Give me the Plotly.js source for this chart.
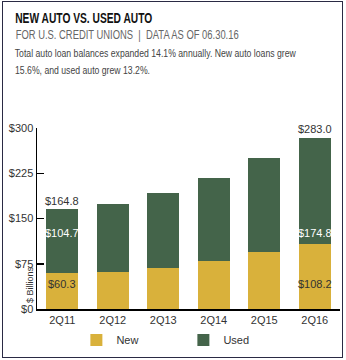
<!DOCTYPE html>
<html>
<head>
<meta charset="utf-8">
<script src="https://cdn.plot.ly/plotly-3.0.1.min.js"></script>
<style>
html,body{margin:0;padding:0;background:#fff;}
#wrap{position:relative;width:346px;height:360px;}
#chart{width:346px;height:360px;}
#frame{position:absolute;left:2px;top:1px;width:339px;height:355px;border:1.5px solid #2a2a44;pointer-events:none;}
</style>
</head>
<body>
<div id="wrap"><div id="chart"></div><div id="frame"></div></div>
<script>
var categories = ["2Q11","2Q12","2Q13","2Q14","2Q15","2Q16"];
var newAuto = [60.3, 61.5, 68.5, 80.0, 95.0, 108.2];
var usedAuto = [104.7, 113.0, 124.0, 137.5, 155.5, 174.8];
var totals = [164.8, 174.5, 192.5, 217.5, 250.5, 283.0];
var yTicks = [0, 75, 150, 225, 300];
var yTickText = ["$0","$75","$150","$225","$300"];
var labelled = [0, 5];
var titleText = "NEW AUTO VS. USED AUTO";
var subtitleText = "FOR U.S. CREDIT UNIONS  |  DATA AS OF 06.30.16";
var bodyLines = ["Total auto loan balances expanded 14.1% annually. New auto loans grew",
                 "15.6%, and used auto grew 13.2%."];

var FONT = "'Liberation Sans', Arial, sans-serif";
var YELLOW = "#d9b13b";
var GREEN = "#44644a";

var traces = [
  {type:"bar", name:"New", x:categories, y:newAuto, marker:{color:YELLOW}, hoverinfo:"skip"},
  {type:"bar", name:"Used", x:categories, y:usedAuto, marker:{color:GREEN}, hoverinfo:"skip"}
];

var ann = [];
labelled.forEach(function(i){
  ann.push({x:categories[i], y:totals[i], text:"$"+totals[i].toFixed(1), showarrow:false, yanchor:"bottom", yshift:1,
    font:{family:FONT, size:11, color:"#333"}});
  ann.push({x:categories[i], y:126, text:"$"+usedAuto[i].toFixed(1), showarrow:false, yanchor:"middle",
    font:{family:FONT, size:11, color:"#ffffff"}});
  ann.push({x:categories[i], y:42, text:"$"+newAuto[i].toFixed(1), showarrow:false, yanchor:"middle",
    font:{family:FONT, size:11, color:"#333"}});
});
function py(pix){ return (309 - pix)/181; }
function px(pix){ return (pix - 37)/303; }
ann.push({xref:"paper", yref:"paper", x:px(30), y:py(285), xanchor:"center", yanchor:"middle", text:"$ Billions", textangle:-90, showarrow:false,
  font:{family:FONT, size:9, color:"#333"}});

var widths = {};
widths[titleText] = 137;
widths[subtitleText] = 223;
widths[bodyLines[0]] = 281;
widths[bodyLines[1]] = 135;

function header(txt, cy, font){
  ann.push({xref:"paper", yref:"paper", xanchor:"center", yanchor:"middle", x:px(15 + widths[txt]/2), y:py(cy),
    text:txt, showarrow:false, font:font});
}
header(titleText, 18, {family:FONT, size:14, weight:"bold", color:"#111"});
header(subtitleText, 35, {family:FONT, size:12.5, color:"#666"});
header(bodyLines[0], 53, {family:FONT, size:11.5, color:"#444"});
header(bodyLines[1], 70, {family:FONT, size:11.5, color:"#444"});

var layout = {
  width:346, height:360,
  margin:{l:37, r:6, t:128, b:51},
  barmode:"stack",
  bargap:0.37,
  paper_bgcolor:"#fff", plot_bgcolor:"#fff",
  font:{family:FONT, size:11, color:"#333"},
  showlegend:true,
  legend:{orientation:"h", xref:"container", yref:"container", x:0.53, xanchor:"center", y:20/360, yanchor:"middle",
    font:{family:FONT, size:11, color:"#333"}, entrywidth:62, entrywidthmode:"pixels", traceorder:"normal"},
  xaxis:{type:"category", showgrid:false, zeroline:false, showline:true, linecolor:"#000", linewidth:1.5,
    ticks:"", tickfont:{family:FONT, size:11, color:"#333"}, fixedrange:true},
  yaxis:{range:[0,300], tickvals:yTicks, ticktext:yTickText, showgrid:false, zeroline:false,
    showline:true, linecolor:"#000", linewidth:1.5, ticks:"inside", ticklen:7, tickcolor:"#000", tickwidth:1.5,
    tickfont:{family:FONT, size:11, color:"#333"}, fixedrange:true},
  annotations:ann
};
Plotly.newPlot("chart", traces, layout, {displayModeBar:false, staticPlot:true}).then(function(gd){
  var els = gd.querySelectorAll("text.annotation-text");
  els.forEach(function(t){
    var w = widths[t.textContent];
    if (w) {
      t.setAttribute("textLength", w);
      t.setAttribute("lengthAdjust", "spacingAndGlyphs");
    }
  });
});
</script>
</body>
</html>
